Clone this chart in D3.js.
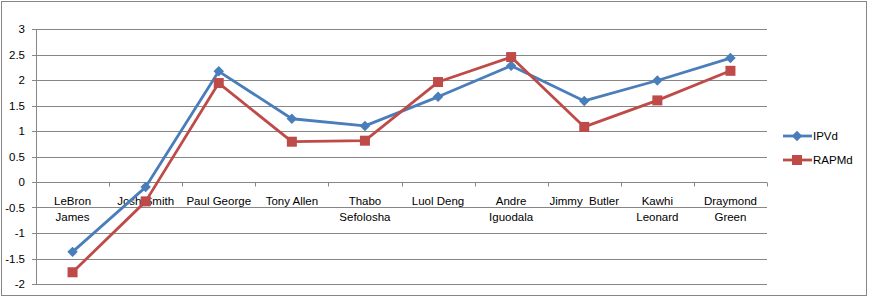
<!DOCTYPE html>
<html>
<head>
<meta charset="utf-8">
<script src="https://cdn.jsdelivr.net/npm/d3@7"></script>
<style>
	body { margin: 0; background: #fff; }
	text { font-family: "Liberation Sans", "DejaVu Sans", sans-serif; fill: #000; }
</style>
</head>
<body>
<div id="container"></div>
<script>
const categories = ["LeBron James", "Josh Smith", "Paul George", "Tony Allen", "Thabo Sefolosha",
	"Luol Deng", "Andre Iguodala", "Jimmy Butler", "Kawhi Leonard", "Draymond Green"];
// how the axis labels break onto two lines
const tickLabels = [["LeBron", "James"], ["Josh Smith"], ["Paul George"], ["Tony Allen"], ["Thabo", "Sefolosha"],
	["Luol Deng"], ["Andre", "Iguodala"], ["Jimmy  Butler"], ["Kawhi", "Leonard"], ["Draymond", "Green"]];
const ipvd = [-1.37, -0.1, 2.17, 1.24, 1.1, 1.67, 2.28, 1.59, 1.99, 2.43];
const rapmd = [-1.77, -0.38, 1.94, 0.79, 0.81, 1.96, 2.45, 1.08, 1.6, 2.18];
const yTicks = [-2, -1.5, -1, -0.5, 0, 0.5, 1, 1.5, 2, 2.5, 3];

const dimensions = {
	width: 869,
	height: 297,
	margin: { left: 36, right: 102, top: 29, bottom: 13 }
}

const svg = d3.select("#container")
	.append("svg")
	.attr("width", dimensions.width)
	.attr("height", dimensions.height)

// outer chart border
svg.append("rect")
	.attr("x", 1.5).attr("y", 1.5)
	.attr("width", 865).attr("height", 294)
	.attr("fill", "#fff")
	.attr("stroke", "#868686")
	.attr("stroke-width", 1)

const x = d3.scaleBand()
	.domain(categories)
	.range([dimensions.margin.left, dimensions.width - dimensions.margin.right])

const y = d3.scaleLinear()
	.domain([-2, 3])
	.range([dimensions.height - dimensions.margin.bottom, dimensions.margin.top])

const grid = "#868686";

// horizontal gridlines
svg.append("g")
	.selectAll("line")
	.data(yTicks)
	.join("line")
	.attr("x1", dimensions.margin.left - 4)
	.attr("x2", x.range()[1])
	.attr("y1", d => Math.round(y(d)) + 0.5)
	.attr("y2", d => Math.round(y(d)) + 0.5)
	.attr("stroke", grid)

// vertical axis
svg.append("line")
	.attr("x1", dimensions.margin.left + 0.5).attr("x2", dimensions.margin.left + 0.5)
	.attr("y1", y(3)).attr("y2", y(-2))
	.attr("stroke", grid)

svg.append("g")
	.selectAll("text")
	.data(yTicks)
	.join("text")
	.attr("x", 25)
	.attr("y", d => y(d) + 4)
	.attr("text-anchor", "end")
	.style("font-size", "11.5px")
	.text(d => d)

// small ticks hanging below the zero line between categories
const y0 = Math.round(y(0)) + 0.5;
svg.append("g")
	.selectAll("line")
	.data(categories.slice(1).concat([null]))
	.join("line")
	.attr("x1", (d, i) => Math.round(x(categories[i]) + x.bandwidth()) + 0.5)
	.attr("x2", (d, i) => Math.round(x(categories[i]) + x.bandwidth()) + 0.5)
	.attr("y1", y0).attr("y2", y0 + 4)
	.attr("stroke", grid)

// category labels
const lbl = svg.append("g")
	.selectAll("text")
	.data(categories)
	.join("text")
	.attr("x", d => x(d) + x.bandwidth() / 2)
	.attr("y", y0 + 22)
	.attr("text-anchor", "middle")
	.style("font-size", "11.5px")

lbl.selectAll("tspan")
	.data((d, i) => tickLabels[i])
	.join("tspan")
	.attr("x", function() { return d3.select(this.parentNode).attr("x") })
	.attr("dy", (d, i) => i === 0 ? 0 : 16)
	.style("white-space", "pre")
	.text(d => d)

const line = d3.line()
	.x((d, i) => x(categories[i]) + x.bandwidth() / 2)
	.y(d => y(d))

const blue = "#4a7ebb";
const red = "#be4b48";

svg.append("path")
	.datum(ipvd)
	.attr("d", line)
	.attr("fill", "none")
	.attr("stroke", blue)
	.attr("stroke-width", 2.8)
	.attr("stroke-linejoin", "round")

svg.append("path")
	.datum(rapmd)
	.attr("d", line)
	.attr("fill", "none")
	.attr("stroke", red)
	.attr("stroke-width", 2.8)
	.attr("stroke-linejoin", "round")

const diamond = d3.symbol().type(d3.symbolDiamond2).size(70);

svg.append("g")
	.selectAll("path")
	.data(ipvd)
	.join("path")
	.attr("d", diamond)
	.attr("transform", (d, i) => `translate(${x(categories[i]) + x.bandwidth() / 2},${y(d)})`)
	.attr("fill", blue)

svg.append("g")
	.selectAll("rect")
	.data(rapmd)
	.join("rect")
	.attr("x", (d, i) => x(categories[i]) + x.bandwidth() / 2 - 5)
	.attr("y", d => y(d) - 5)
	.attr("width", 10).attr("height", 10)
	.attr("fill", red)

// legend
const legend = [
	{ name: "IPVd", color: blue, ly: 136, shape: "diamond" },
	{ name: "RAPMd", color: red, ly: 160, shape: "square" }
];

const lg = svg.append("g")
	.selectAll("g")
	.data(legend)
	.join("g")
	.attr("transform", d => `translate(783,${d.ly})`)

lg.append("line")
	.attr("x1", 0).attr("x2", 29)
	.attr("stroke", d => d.color)
	.attr("stroke-width", 2.8)

lg.filter(d => d.shape === "diamond")
	.append("path")
	.attr("d", diamond)
	.attr("transform", "translate(14,0)")
	.attr("fill", blue)

lg.filter(d => d.shape === "square")
	.append("rect")
	.attr("x", 9).attr("y", -5)
	.attr("width", 10).attr("height", 10)
	.attr("fill", red)

lg.append("text")
	.attr("x", 30)
	.attr("y", 4)
	.style("font-size", "11.5px")
	.text(d => d.name)
</script>
</body>
</html>
